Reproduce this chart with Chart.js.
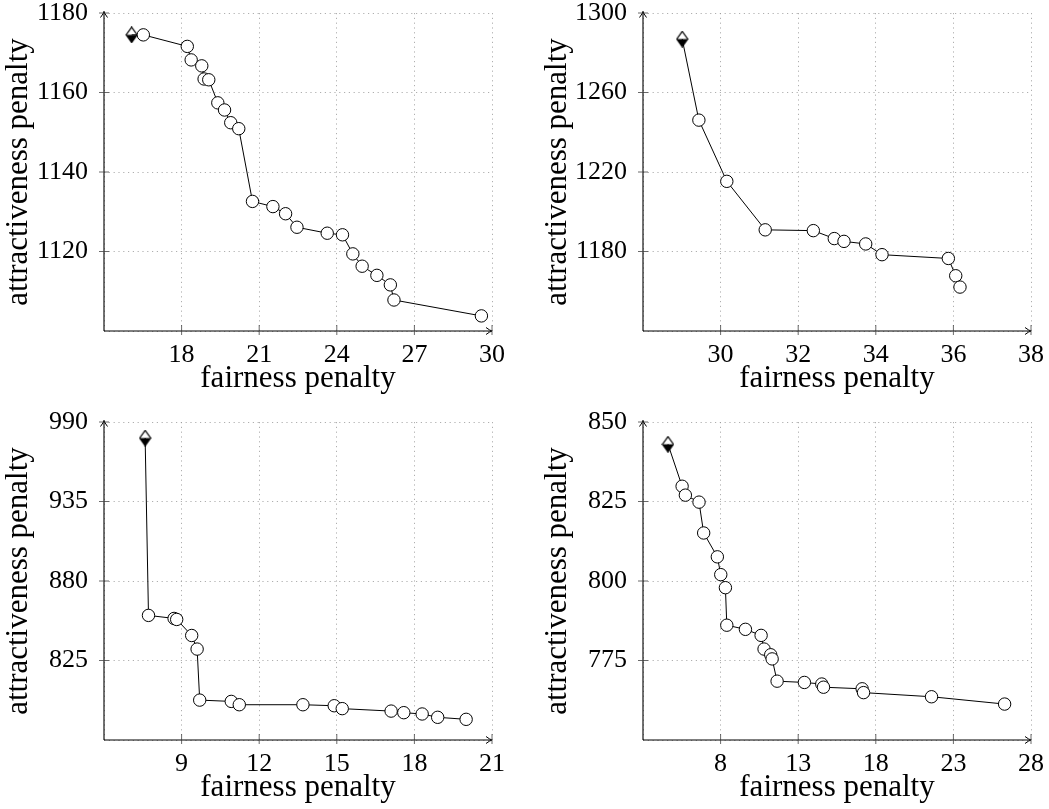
<!DOCTYPE html>
<html>
<head>
<meta charset="utf-8">
<script src="https://cdn.jsdelivr.net/npm/chart.js@4.4.1/dist/chart.umd.min.js"></script>
<style>
  html, body { margin: 0; padding: 0; background: #fff; }
  body { width: 1049px; height: 809px; position: relative; overflow: hidden; }
  .panel { position: absolute; width: 510px; height: 400px; }
</style>
</head>
<body>
<div class="panel" style="left:0;top:0"><canvas id="c1" width="510" height="400"></canvas></div>
<div class="panel" style="left:539px;top:0"><canvas id="c2" width="510" height="400"></canvas></div>
<div class="panel" style="left:0;top:409px"><canvas id="c3" width="510" height="400"></canvas></div>
<div class="panel" style="left:539px;top:409px"><canvas id="c4" width="510" height="400"></canvas></div>
<script>
// ============================================
// DATA
// ============================================

// top left
const fair1 = [16.07, 16.52, 18.22, 18.37, 18.78, 18.87, 19.05, 19.40, 19.66, 19.90, 20.21,
  20.74, 21.53, 22.02, 22.46, 23.63, 24.22, 24.62, 24.98, 25.55, 26.07, 26.21, 29.59];
const attr1 = [1174.5, 1174.5, 1171.6, 1168.2, 1166.7, 1163.4, 1163.2, 1157.4, 1155.6, 1152.4, 1150.9,
  1132.6, 1131.3, 1129.5, 1126.1, 1124.6, 1124.2, 1119.4, 1116.3, 1114.0, 1111.6, 1107.8, 1103.8];
const xTicks1 = [15, 18, 21, 24, 27, 30];
const yTicks1 = [1100, 1120, 1140, 1160, 1180];

// top right
const fair2 = [29.01, 29.44, 30.16, 31.15, 32.39, 32.93, 33.18, 33.74, 34.16, 35.87, 36.06, 36.17];
const attr2 = [1286.9, 1246.1, 1215.3, 1190.9, 1190.5, 1186.5, 1185.1, 1183.8, 1178.4, 1176.5, 1167.8, 1162.1];
const xTicks2 = [28, 30, 32, 34, 36, 38];
const yTicks2 = [1140, 1180, 1220, 1260, 1300];

// bottom left
const fair3 = [7.59, 7.72, 8.71, 8.81, 9.39, 9.60, 9.70, 10.92, 11.23, 13.69, 14.90, 15.21,
  17.10, 17.59, 18.30, 18.90, 20.00];
const attr3 = [978.9, 856.2, 854.1, 853.4, 842.3, 832.9, 797.6, 796.7, 794.4, 794.4, 793.7, 791.7,
  790.0, 788.9, 788.0, 785.7, 784.3];
const xTicks3 = [6, 9, 12, 15, 18, 21];
const yTicks3 = [770, 825, 880, 935, 990];

// bottom right
const fair4 = [4.61, 5.52, 5.73, 6.61, 6.91, 7.79, 8.01, 8.31, 8.40, 9.60, 10.61, 10.80, 11.23, 11.32,
  11.64, 13.40, 14.52, 14.63, 17.12, 17.21, 21.59, 26.30];
const attr4 = [843.0, 829.8, 827.0, 824.8, 815.1, 807.6, 802.0, 797.9, 786.1, 784.8, 782.9, 778.6, 776.8, 775.5,
  768.5, 768.1, 767.6, 766.6, 766.1, 764.9, 763.6, 761.3];
const xTicks4 = [3, 8, 13, 18, 23, 28];
const yTicks4 = [750, 775, 800, 825, 850];

const X_TITLE = 'fairness penalty';
const Y_TITLE = 'attractiveness penalty';

// ============================================
// MARKERS AND AXES
// ============================================

const SERIF = '"Liberation Serif", "Times New Roman", serif';

// half filled diamond: white top, black bottom
function makeDiamond() {
  const c = document.createElement('canvas');
  c.width = 13;
  c.height = 17;
  const g = c.getContext('2d');
  g.beginPath();
  g.moveTo(1, 8.5);
  g.lineTo(12, 8.5);
  g.lineTo(6.5, 16.2);
  g.closePath();
  g.fillStyle = '#000';
  g.fill();
  g.beginPath();
  g.moveTo(6.5, 0.8);
  g.lineTo(12, 8.5);
  g.lineTo(6.5, 16.2);
  g.lineTo(1, 8.5);
  g.closePath();
  g.strokeStyle = '#000';
  g.lineWidth = 1.2;
  g.stroke();
  return c;
}
const diamond = makeDiamond();

// axis lines with arrow heads and small crossing ticks
const axesPlugin = {
  id: 'axesPlugin',
  afterDraw(chart) {
    const { ctx, chartArea: a, scales } = chart;
    ctx.save();
    ctx.strokeStyle = '#000';
    ctx.lineWidth = 1.1;
    ctx.beginPath();
    ctx.moveTo(a.left, a.bottom);
    ctx.lineTo(a.right, a.bottom);
    ctx.moveTo(a.left, a.bottom);
    ctx.lineTo(a.left, a.top - 1.5);
    ctx.stroke();

    // arrow heads
    ctx.lineWidth = 1;
    ctx.beginPath();
    ctx.moveTo(a.right - 6, a.bottom - 3.5);
    ctx.quadraticCurveTo(a.right - 2, a.bottom - 0.5, a.right, a.bottom);
    ctx.quadraticCurveTo(a.right - 2, a.bottom + 0.5, a.right - 6, a.bottom + 3.5);
    ctx.moveTo(a.left - 3.5, a.top + 4.5);
    ctx.quadraticCurveTo(a.left - 0.5, a.top + 0.5, a.left, a.top - 1.5);
    ctx.quadraticCurveTo(a.left + 0.5, a.top + 0.5, a.left + 3.5, a.top + 4.5);
    ctx.stroke();

    // tick marks
    ctx.strokeStyle = '#444';
    ctx.lineWidth = 0.8;
    ctx.beginPath();
    scales.x.ticks.forEach((t, i) => {
      if (i === 0) return;
      const px = scales.x.getPixelForValue(t.value);
      ctx.moveTo(px, a.bottom - 6);
      ctx.lineTo(px, a.bottom + 4);
    });
    scales.y.ticks.forEach((t, i) => {
      if (i === 0) return;
      const py = scales.y.getPixelForValue(t.value);
      ctx.moveTo(a.left - 5, py);
      ctx.lineTo(a.left + 5, py);
    });
    ctx.stroke();
    ctx.restore();
  },
};

// drop the label overflow padding so the plot box sits where layout.padding says
function noScalePadding(s) {
  s.paddingTop = 0;
  s.paddingBottom = 0;
  s.paddingLeft = 0;
  s.paddingRight = 0;
}

// ============================================
// CHARTS
// ============================================

function makeChart(id, xs, ys, xTicks, yTicks) {
  const points = xs.map((x, i) => ({ x: x, y: ys[i] }));
  const hideFirst = (ticks) => (value, index) => (index === 0 ? '' : ticks[index]);

  return new Chart(document.getElementById(id), {
    type: 'scatter',
    data: {
      datasets: [
        {
          data: points,
          showLine: true,
          borderColor: '#000',
          borderWidth: 1,
          pointStyle: (ctx) => (ctx.dataIndex === 0 ? diamond : 'circle'),
          pointRadius: 6.2,
          pointBackgroundColor: '#fff',
          pointBorderColor: '#000',
          pointBorderWidth: 1,
        },
      ],
    },
    options: {
      responsive: false,
      animation: false,
      events: [],
      layout: { padding: { top: 13, right: 18, left: 0, bottom: 0 } },
      plugins: {
        legend: { display: false },
        tooltip: { enabled: false },
      },
      scales: {
        x: {
          type: 'linear',
          min: xTicks[0],
          max: xTicks[xTicks.length - 1],
          afterBuildTicks: (s) => { s.ticks = xTicks.map((v) => ({ value: v })); },
          afterFit: (s) => { s.height = 69; noScalePadding(s); },
          ticks: {
            callback: hideFirst(xTicks),
            padding: 9,
            maxRotation: 0,
            autoSkip: false,
            color: '#000',
            font: { family: SERIF, size: 26 },
          },
          grid: { color: '#9a9a9a', lineWidth: 0.8, drawTicks: false },
          border: { display: false, dash: [1.2, 3.6] },
          title: {
            display: true,
            text: X_TITLE,
            color: '#000',
            font: { family: SERIF, size: 31 },
            padding: { top: 0, bottom: 3 },
          },
        },
        y: {
          type: 'linear',
          min: yTicks[0],
          max: yTicks[yTicks.length - 1],
          afterBuildTicks: (s) => { s.ticks = yTicks.map((v) => ({ value: v })); },
          afterFit: (s) => { s.width = 104; noScalePadding(s); },
          ticks: {
            callback: hideFirst(yTicks),
            padding: 16,
            autoSkip: false,
            color: '#000',
            font: { family: SERIF, size: 26 },
          },
          grid: { color: '#9a9a9a', lineWidth: 0.8, drawTicks: false },
          border: { display: false, dash: [1.2, 3.6] },
          title: {
            display: true,
            text: Y_TITLE,
            color: '#000',
            font: { family: SERIF, size: 31 },
            padding: { top: 0, bottom: 0 },
          },
        },
      },
    },
    plugins: [axesPlugin],
  });
}

window.addEventListener('load', function () {
  makeChart('c1', fair1, attr1, xTicks1, yTicks1);
  makeChart('c2', fair2, attr2, xTicks2, yTicks2);
  makeChart('c3', fair3, attr3, xTicks3, yTicks3);
  makeChart('c4', fair4, attr4, xTicks4, yTicks4);
});
</script>
</body>
</html>
